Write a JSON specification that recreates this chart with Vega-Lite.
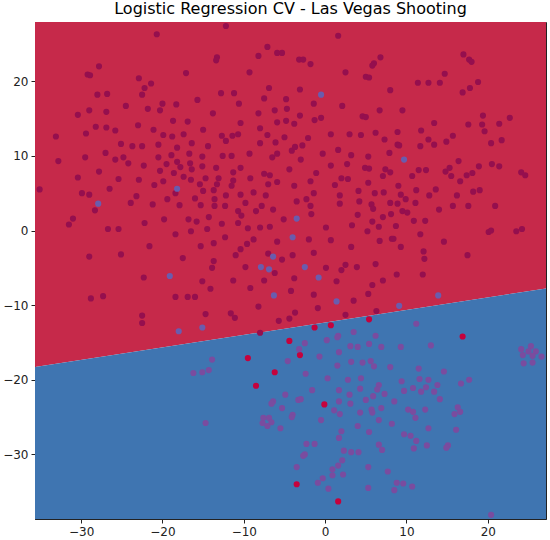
{
  "$schema": "https://vega.github.io/schema/vega-lite/v6.json",
  "width": 511,
  "height": 497,
  "autosize": "none",
  "padding": {"left": 35, "top": 22, "right": 4, "bottom": 21},
  "background": "white",
  "title": {"text": "Logistic Regression CV - Las Vegas Shooting", "font": "DejaVu Sans", "fontSize": 16, "fontWeight": "normal", "color": "black", "offset": 5, "anchor": "middle"},
  "datasets": {
    "region": [{"x": -35.67, "y": -18.3}, {"x": 27.15, "y": -7.77}],
    "pts": [
      {"x":-12.2,"y":27.4,"k":"rr"},{"x":-20.7,"y":26.3,"k":"rr"},{"x":-7.1,"y":24.6,"k":"rr"},{"x":-8.2,"y":23.4,"k":"rr"},{"x":-5.9,"y":23.8,"k":"rr"},
      {"x":-13.3,"y":23.2,"k":"rr"},{"x":-13.4,"y":22.8,"k":"rr"},{"x":-27.8,"y":22.0,"k":"rr"},{"x":-29.2,"y":20.9,"k":"rr"},{"x":-28.9,"y":20.8,"k":"rr"},
      {"x":-17.1,"y":21.1,"k":"rr"},{"x":-9.3,"y":21.2,"k":"rr"},{"x":-22.9,"y":20.4,"k":"rr"},{"x":-21.4,"y":19.7,"k":"rr"},{"x":-22.2,"y":19.1,"k":"rr"},
      {"x":-6.9,"y":19.1,"k":"rr"},{"x":-28.0,"y":18.2,"k":"rr"},{"x":-26.8,"y":18.3,"k":"rr"},{"x":-22.5,"y":18.2,"k":"rr"},{"x":-12.8,"y":18.4,"k":"rr"},
      {"x":-11.2,"y":18.4,"k":"rr"},{"x":-7.5,"y":17.7,"k":"rr"},{"x":-15.7,"y":17.5,"k":"rr"},{"x":-20.0,"y":17.0,"k":"rr"},{"x":-18.3,"y":16.9,"k":"rr"},
      {"x":-10.6,"y":17.0,"k":"rr"},{"x":-24.5,"y":16.7,"k":"rr"},{"x":-29.0,"y":16.1,"k":"rr"},{"x":-21.8,"y":16.3,"k":"rr"},{"x":-20.3,"y":16.1,"k":"rr"},
      {"x":-26.9,"y":15.9,"k":"rr"},{"x":-13.8,"y":15.7,"k":"rr"},{"x":-8.2,"y":15.7,"k":"rr"},{"x":-6.2,"y":16.1,"k":"rr"},{"x":-30.4,"y":15.5,"k":"rr"},
      {"x":-18.7,"y":14.7,"k":"rr"},{"x":-16.9,"y":14.6,"k":"rr"},{"x":-10.4,"y":14.4,"k":"rr"},{"x":-28.2,"y":13.9,"k":"rr"},{"x":-26.9,"y":13.8,"k":"rr"},
      {"x":-25.8,"y":13.4,"k":"rr"},{"x":-23.0,"y":14.1,"k":"rr"},{"x":-21.1,"y":13.5,"k":"rr"},{"x":-15.0,"y":13.5,"k":"rr"},{"x":-8.0,"y":13.7,"k":"rr"},
      {"x":-5.9,"y":14.5,"k":"rr"},{"x":-29.4,"y":13.0,"k":"rr"},{"x":-19.9,"y":12.8,"k":"rr"},{"x":-18.8,"y":12.6,"k":"rr"},{"x":-17.4,"y":12.9,"k":"rr"},
      {"x":-12.7,"y":12.7,"k":"rr"},{"x":-11.4,"y":12.7,"k":"rr"},{"x":-10.7,"y":12.9,"k":"rr"},{"x":-7.1,"y":12.8,"k":"rr"},{"x":-6.1,"y":11.8,"k":"rr"},
      {"x":-33.1,"y":12.6,"k":"rr"},{"x":-25.1,"y":11.6,"k":"rr"},{"x":-23.7,"y":11.3,"k":"rr"},{"x":-22.5,"y":11.3,"k":"rr"},{"x":-20.5,"y":11.5,"k":"rr"},
      {"x":-18.2,"y":11.1,"k":"rr"},{"x":-16.4,"y":11.7,"k":"rr"},{"x":-14.4,"y":11.3,"k":"rr"},{"x":-12.2,"y":12.0,"k":"rr"},{"x":-8.0,"y":11.7,"k":"rr"},
      {"x":-27.0,"y":10.4,"k":"rr"},{"x":-29.5,"y":9.8,"k":"rr"},{"x":-32.8,"y":9.3,"k":"rr"},{"x":-25.8,"y":9.5,"k":"rr"},{"x":-24.8,"y":9.8,"k":"rr"},
      {"x":-24.2,"y":9.0,"k":"rr"},{"x":-20.5,"y":9.8,"k":"rr"},{"x":-18.9,"y":10.1,"k":"rr"},{"x":-18.2,"y":9.2,"k":"rr"},{"x":-19.5,"y":8.9,"k":"rr"},
      {"x":-16.7,"y":10.3,"k":"rr"},{"x":-16.6,"y":9.0,"k":"rr"},{"x":-15.1,"y":9.9,"k":"rr"},{"x":-15.1,"y":8.6,"k":"rr"},{"x":-12.6,"y":10.0,"k":"rr"},
      {"x":-11.5,"y":10.0,"k":"rr"},{"x":-9.3,"y":10.3,"k":"rr"},{"x":-6.5,"y":9.8,"k":"rr"},{"x":-5.9,"y":10.3,"k":"rr"},{"x":-22.3,"y":8.7,"k":"rr"},
      {"x":-17.8,"y":8.5,"k":"rr"},{"x":-16.4,"y":8.2,"k":"rr"},{"x":-13.4,"y":8.4,"k":"rr"},{"x":-10.4,"y":8.4,"k":"rr"},{"x":-27.8,"y":7.9,"k":"rr"},
      {"x":-20.3,"y":8.0,"k":"rr"},{"x":-18.6,"y":7.7,"k":"rr"},{"x":-11.3,"y":7.8,"k":"rr"},{"x":-7.5,"y":7.6,"k":"rr"},{"x":-6.8,"y":7.4,"k":"rr"},
      {"x":-30.4,"y":7.1,"k":"rr"},{"x":-25.4,"y":6.9,"k":"rr"},{"x":-22.9,"y":6.8,"k":"rr"},{"x":-19.9,"y":6.6,"k":"rr"},{"x":-17.4,"y":7.2,"k":"rr"},
      {"x":-16.5,"y":6.8,"k":"rr"},{"x":-14.7,"y":7.0,"k":"rr"},{"x":-13.1,"y":7.0,"k":"rr"},{"x":-11.3,"y":6.7,"k":"rr"},{"x":-9.2,"y":7.0,"k":"rr"},
      {"x":-7.0,"y":6.2,"k":"rr"},{"x":-5.9,"y":6.5,"k":"rr"},{"x":-35.1,"y":5.5,"k":"rr"},{"x":-21.0,"y":6.1,"k":"rr"},{"x":-15.4,"y":6.2,"k":"rr"},
      {"x":-13.3,"y":6.2,"k":"rr"},{"x":-13.7,"y":5.4,"k":"rr"},{"x":-11.5,"y":6.0,"k":"rr"},{"x":-26.5,"y":5.6,"k":"rr"},{"x":-29.9,"y":5.0,"k":"rr"},
      {"x":-29.0,"y":4.8,"k":"rr"},{"x":-18.4,"y":5.0,"k":"rr"},{"x":-15.0,"y":5.3,"k":"rr"},{"x":-12.2,"y":4.7,"k":"rr"},{"x":-10.4,"y":4.8,"k":"rr"},
      {"x":-8.8,"y":5.1,"k":"rr"},{"x":-7.3,"y":4.7,"k":"rr"},{"x":-23.2,"y":4.6,"k":"rr"},{"x":-23.9,"y":3.7,"k":"rr"},{"x":-19.4,"y":4.2,"k":"rr"},
      {"x":-17.9,"y":3.4,"k":"rr"},{"x":-16.0,"y":4.3,"k":"rr"},{"x":-15.3,"y":3.4,"k":"rr"},{"x":-13.6,"y":4.2,"k":"rr"},{"x":-13.6,"y":3.3,"k":"rr"},
      {"x":-12.3,"y":3.3,"k":"rr"},{"x":-9.8,"y":3.7,"k":"rr"},{"x":-7.8,"y":3.3,"k":"rr"},{"x":-6.4,"y":2.8,"k":"rr"},{"x":-28.3,"y":2.7,"k":"rr"},
      {"x":-21.2,"y":3.5,"k":"rr"},{"x":-10.7,"y":2.6,"k":"rr"},{"x":-10.3,"y":2.0,"k":"rr"},{"x":-8.5,"y":2.6,"k":"rr"},{"x":-31.0,"y":1.6,"k":"rr"},
      {"x":-31.5,"y":0.8,"k":"rr"},{"x":-19.8,"y":1.5,"k":"rr"},{"x":-14.3,"y":1.8,"k":"rr"},{"x":-16.8,"y":1.5,"k":"rr"},{"x":-15.8,"y":1.2,"k":"rr"},
      {"x":-22.2,"y":1.0,"k":"rr"},{"x":-12.7,"y":0.9,"k":"rr"},{"x":-10.7,"y":1.0,"k":"rr"},{"x":-26.7,"y":0.2,"k":"rr"},{"x":-25.4,"y":0.2,"k":"rr"},
      {"x":-18.4,"y":-0.5,"k":"rr"},{"x":-16.5,"y":-0.1,"k":"rr"},{"x":-14.5,"y":0.2,"k":"rr"},{"x":-12.3,"y":-0.9,"k":"rr"},{"x":-9.5,"y":0.3,"k":"rr"},
      {"x":-8.0,"y":0.4,"k":"rr"},{"x":-6.8,"y":0.5,"k":"rr"},{"x":-5.9,"y":-1.5,"k":"rr"},{"x":-8.8,"y":-1.2,"k":"rr"},{"x":-9.6,"y":-1.8,"k":"rr"},
      {"x":-10.4,"y":-2.5,"k":"rr"},{"x":-11.0,"y":-3.3,"k":"rr"},{"x":-13.7,"y":-1.7,"k":"rr"},{"x":-15.3,"y":-2.1,"k":"rr"},{"x":-21.6,"y":-2.1,"k":"rr"},
      {"x":-29.0,"y":-3.5,"k":"rr"},{"x":-25.1,"y":-3.2,"k":"rr"},{"x":-17.5,"y":-3.7,"k":"rr"},{"x":-13.7,"y":-4.1,"k":"rr"},{"x":-13.9,"y":-5.0,"k":"rr"},
      {"x":-7.0,"y":-3.1,"k":"rr"},{"x":-9.8,"y":-4.9,"k":"rr"},{"x":-6.2,"y":-5.7,"k":"rr"},{"x":-7.5,"y":-6.7,"k":"rr"},{"x":-22.3,"y":-6.3,"k":"rr"},
      {"x":-15.1,"y":-6.8,"k":"rr"},{"x":-11.3,"y":-6.7,"k":"rr"},{"x":-14.1,"y":-7.8,"k":"rr"},{"x":-9.2,"y":-7.7,"k":"rr"},{"x":-28.8,"y":-9.1,"k":"rr"},
      {"x":-27.3,"y":-8.8,"k":"rr"},{"x":-18.4,"y":-8.9,"k":"rr"},{"x":-16.9,"y":-8.9,"k":"rr"},{"x":-16.0,"y":-8.9,"k":"rr"},{"x":-8.2,"y":-10.2,"k":"rr"},
      {"x":-22.5,"y":-11.4,"k":"rr"},{"x":-14.7,"y":-11.2,"k":"rr"},{"x":-11.6,"y":-11.1,"k":"rr"},{"x":-11.1,"y":-11.7,"k":"rr"},{"x":-22.5,"y":-12.4,"k":"rr"},
      {"x":-5.7,"y":-12.1,"k":"rr"},{"x":-8.0,"y":-13.7,"k":"rr"},
      {"x":1.6,"y":26.1,"k":"rr"},{"x":-5.3,"y":23.8,"k":"rr"},{"x":-3.2,"y":22.9,"k":"rr"},{"x":-2.7,"y":22.9,"k":"rr"},{"x":-1.8,"y":22.3,"k":"rr"},
      {"x":6.8,"y":23.2,"k":"rr"},{"x":6.0,"y":22.4,"k":"rr"},{"x":5.8,"y":22.1,"k":"rr"},{"x":2.5,"y":21.2,"k":"rr"},{"x":5.0,"y":20.6,"k":"rr"},
      {"x":5.4,"y":20.5,"k":"rr"},{"x":17.0,"y":23.6,"k":"rr"},{"x":17.7,"y":22.9,"k":"rr"},{"x":18.0,"y":22.6,"k":"rr"},{"x":14.7,"y":21.0,"k":"rr"},
      {"x":11.4,"y":19.8,"k":"rr"},{"x":12.7,"y":19.8,"k":"rr"},{"x":14.1,"y":19.8,"k":"rr"},{"x":18.8,"y":19.9,"k":"rr"},{"x":17.8,"y":19.1,"k":"rr"},
      {"x":16.9,"y":18.5,"k":"rr"},{"x":-3.1,"y":18.9,"k":"rr"},{"x":8.0,"y":18.8,"k":"rr"},{"x":-4.8,"y":17.6,"k":"rr"},{"x":-4.7,"y":16.3,"k":"rr"},
      {"x":-1.4,"y":17.0,"k":"rr"},{"x":2.1,"y":16.7,"k":"rr"},{"x":6.7,"y":16.1,"k":"rr"},{"x":9.5,"y":16.1,"k":"rr"},{"x":-3.1,"y":15.4,"k":"rr"},
      {"x":-1.3,"y":14.8,"k":"rr"},{"x":-0.5,"y":15.1,"k":"rr"},{"x":-4.8,"y":14.7,"k":"rr"},{"x":-3.8,"y":14.3,"k":"rr"},{"x":4.6,"y":15.3,"k":"rr"},
      {"x":5.0,"y":15.2,"k":"rr"},{"x":19.4,"y":15.4,"k":"rr"},{"x":22.7,"y":15.1,"k":"rr"},{"x":13.4,"y":14.4,"k":"rr"},{"x":17.6,"y":14.2,"k":"rr"},
      {"x":19.3,"y":14.2,"k":"rr"},{"x":21.4,"y":14.3,"k":"rr"},{"x":19.6,"y":13.3,"k":"rr"},{"x":11.8,"y":13.4,"k":"rr"},{"x":8.9,"y":13.2,"k":"rr"},
      {"x":6.2,"y":13.1,"k":"rr"},{"x":3.0,"y":12.9,"k":"rr"},{"x":4.4,"y":12.8,"k":"rr"},{"x":0.7,"y":12.9,"k":"rr"},{"x":-5.0,"y":12.5,"k":"rr"},
      {"x":-2.1,"y":12.4,"k":"rr"},{"x":7.3,"y":12.2,"k":"rr"},{"x":15.7,"y":12.7,"k":"rr"},{"x":14.9,"y":11.9,"k":"rr"},{"x":12.7,"y":12.2,"k":"rr"},
      {"x":13.4,"y":11.5,"k":"rr"},{"x":21.7,"y":12.1,"k":"rr"},{"x":20.4,"y":11.7,"k":"rr"},{"x":8.9,"y":11.5,"k":"rr"},{"x":9.1,"y":11.4,"k":"rr"},
      {"x":11.7,"y":11.3,"k":"rr"},{"x":-4.1,"y":10.7,"k":"rr"},{"x":-3.7,"y":11.2,"k":"rr"},{"x":-2.8,"y":11.4,"k":"rr"},{"x":1.6,"y":10.8,"k":"rr"},
      {"x":7.9,"y":10.4,"k":"rr"},{"x":-0.3,"y":10.3,"k":"rr"},{"x":3.2,"y":10.1,"k":"rr"},{"x":5.3,"y":9.9,"k":"rr"},{"x":-3.0,"y":9.5,"k":"rr"},
      {"x":16.4,"y":9.3,"k":"rr"},{"x":20.5,"y":8.9,"k":"rr"},{"x":21.4,"y":8.6,"k":"rr"},{"x":18.9,"y":8.6,"k":"rr"},{"x":0.7,"y":8.7,"k":"rr"},
      {"x":2.7,"y":8.9,"k":"rr"},{"x":4.9,"y":8.4,"k":"rr"},{"x":5.4,"y":8.3,"k":"rr"},{"x":7.4,"y":8.2,"k":"rr"},{"x":8.0,"y":7.8,"k":"rr"},
      {"x":-4.4,"y":8.2,"k":"rr"},{"x":11.5,"y":8.1,"k":"rr"},{"x":12.4,"y":8.1,"k":"rr"},{"x":14.8,"y":7.9,"k":"rr"},{"x":15.3,"y":8.4,"k":"rr"},
      {"x":15.5,"y":7.3,"k":"rr"},{"x":17.4,"y":7.4,"k":"rr"},{"x":18.1,"y":7.7,"k":"rr"},{"x":24.1,"y":7.8,"k":"rr"},{"x":24.6,"y":7.4,"k":"rr"},
      {"x":-1.1,"y":7.7,"k":"rr"},{"x":2.0,"y":7.0,"k":"rr"},{"x":2.8,"y":6.9,"k":"rr"},{"x":7.1,"y":7.3,"k":"rr"},{"x":10.7,"y":7.3,"k":"rr"},
      {"x":16.6,"y":6.6,"k":"rr"},{"x":5.3,"y":6.4,"k":"rr"},{"x":-1.8,"y":6.6,"k":"rr"},{"x":-3.8,"y":6.0,"k":"rr"},{"x":1.2,"y":6.1,"k":"rr"},
      {"x":9.0,"y":6.0,"k":"rr"},{"x":19.0,"y":5.4,"k":"rr"},{"x":18.2,"y":5.2,"k":"rr"},{"x":13.6,"y":5.5,"k":"rr"},{"x":12.8,"y":4.7,"k":"rr"},
      {"x":11.2,"y":5.4,"k":"rr"},{"x":4.1,"y":5.3,"k":"rr"},{"x":6.1,"y":5.0,"k":"rr"},{"x":7.2,"y":5.1,"k":"rr"},{"x":9.3,"y":4.8,"k":"rr"},
      {"x":9.9,"y":4.2,"k":"rr"},{"x":16.2,"y":4.7,"k":"rr"},{"x":-1.4,"y":5.0,"k":"rr"},{"x":1.8,"y":4.7,"k":"rr"},{"x":-2.3,"y":4.2,"k":"rr"},
      {"x":-1.8,"y":3.3,"k":"rr"},{"x":-3.5,"y":3.9,"k":"rr"},{"x":1.8,"y":3.6,"k":"rr"},{"x":4.2,"y":3.9,"k":"rr"},{"x":5.7,"y":3.5,"k":"rr"},
      {"x":5.9,"y":2.9,"k":"rr"},{"x":8.0,"y":3.7,"k":"rr"},{"x":8.9,"y":3.6,"k":"rr"},{"x":11.1,"y":3.7,"k":"rr"},{"x":14.0,"y":2.8,"k":"rr"},
      {"x":15.7,"y":3.3,"k":"rr"},{"x":17.6,"y":3.3,"k":"rr"},{"x":20.9,"y":3.3,"k":"rr"},{"x":9.5,"y":2.6,"k":"rr"},{"x":10.1,"y":2.4,"k":"rr"},
      {"x":4.0,"y":2.1,"k":"rr"},{"x":8.1,"y":2.2,"k":"rr"},{"x":7.1,"y":1.8,"k":"rr"},{"x":-1.7,"y":2.2,"k":"rr"},{"x":-5.1,"y":1.5,"k":"rr"},
      {"x":5.8,"y":1.2,"k":"rr"},{"x":6.6,"y":0.5,"k":"rr"},{"x":10.9,"y":1.3,"k":"rr"},{"x":12.3,"y":1.3,"k":"rr"},{"x":3.3,"y":0.7,"k":"rr"},
      {"x":5.2,"y":-0.1,"k":"rr"},{"x":0.1,"y":0.4,"k":"rr"},{"x":8.7,"y":0.6,"k":"rr"},{"x":11.7,"y":-0.5,"k":"rr"},{"x":20.1,"y":-0.2,"k":"rr"},
      {"x":20.4,"y":0.0,"k":"rr"},{"x":23.5,"y":-0.1,"k":"rr"},{"x":24.2,"y":0.2,"k":"rr"},{"x":-2.0,"y":-1.2,"k":"rr"},{"x":0.7,"y":-1.3,"k":"rr"},
      {"x":6.7,"y":-1.4,"k":"rr"},{"x":8.2,"y":-1.1,"k":"rr"},{"x":8.4,"y":-1.1,"k":"rr"},{"x":14.6,"y":-1.5,"k":"rr"},{"x":9.3,"y":-2.2,"k":"rr"},
      {"x":3.2,"y":-2.2,"k":"rr"},{"x":-1.4,"y":-3.0,"k":"rr"},{"x":12.1,"y":-2.8,"k":"rr"},{"x":12.2,"y":-3.8,"k":"rr"},{"x":17.5,"y":-3.3,"k":"rr"},
      {"x":-5.3,"y":-3.9,"k":"rr"},{"x":-4.0,"y":-3.3,"k":"rr"},{"x":2.5,"y":-4.6,"k":"rr"},{"x":2.0,"y":-5.3,"k":"rr"},{"x":3.9,"y":-4.9,"k":"rr"},
      {"x":0.1,"y":-5.0,"k":"rr"},{"x":6.2,"y":-4.5,"k":"rr"},{"x":-3.8,"y":-6.4,"k":"rr"},{"x":1.4,"y":-6.8,"k":"rr"},{"x":7.1,"y":-6.7,"k":"rr"},
      {"x":5.8,"y":-7.3,"k":"rr"},{"x":8.8,"y":-5.9,"k":"rr"},{"x":12.0,"y":-5.9,"k":"rr"},{"x":5.3,"y":-8.5,"k":"rr"},{"x":-1.4,"y":-8.6,"k":"rr"},
      {"x":-4.2,"y":-8.1,"k":"rr"},{"x":3.5,"y":-9.4,"k":"rr"},{"x":-0.9,"y":-10.4,"k":"rr"},{"x":6.3,"y":-10.8,"k":"rr"},{"x":2.5,"y":-11.3,"k":"rr"},
      {"x":-3.7,"y":-11.0,"k":"rr"},{"x":-4.4,"y":-11.8,"k":"rr"},
      {"x":-18.2,"y":5.6,"k":"br"},{"x":-27.9,"y":3.6,"k":"br"},{"x":-6.4,"y":-3.5,"k":"br"},{"x":-7.9,"y":-4.9,"k":"br"},{"x":-6.9,"y":-5.2,"k":"br"},
      {"x":-19.1,"y":-6.1,"k":"br"},{"x":-6.3,"y":-8.7,"k":"br"},{"x":-18.0,"y":-13.5,"k":"br"},{"x":-15.1,"y":-13.0,"k":"br"},{"x":-0.5,"y":18.2,"k":"br"},
      {"x":9.7,"y":9.5,"k":"br"},{"x":-3.5,"y":1.6,"k":"br"},{"x":-4.0,"y":-0.9,"k":"br"},{"x":-2.5,"y":-4.9,"k":"br"},{"x":-0.8,"y":-6.3,"k":"br"},
      {"x":13.9,"y":-8.7,"k":"br"},{"x":1.4,"y":-9.5,"k":"br"},{"x":9.1,"y":-10.1,"k":"br"},
      {"x":-9.5,"y":-17.1,"k":"rb"},{"x":-6.2,"y":-19.0,"k":"rb"},{"x":-8.5,"y":-20.8,"k":"rb"},{"x":5.4,"y":-11.9,"k":"rb"},{"x":-1.3,"y":-13.0,"k":"rb"},
      {"x":0.7,"y":-12.7,"k":"rb"},{"x":-4.4,"y":-14.8,"k":"rb"},{"x":-3.1,"y":-16.7,"k":"rb"},{"x":16.9,"y":-14.2,"k":"rb"},{"x":-0.1,"y":-23.3,"k":"rb"},
      {"x":-3.5,"y":-34.0,"k":"rb"},{"x":1.6,"y":-36.3,"k":"rb"},
      {"x":-13.9,"y":-17.3,"k":"bb"},{"x":-16.2,"y":-19.1,"k":"bb"},{"x":-15.1,"y":-19.0,"k":"bb"},{"x":-14.3,"y":-18.7,"k":"bb"},{"x":-6.4,"y":-22.9,"k":"bb"},
      {"x":-6.6,"y":-23.2,"k":"bb"},{"x":-7.6,"y":-25.1,"k":"bb"},{"x":-6.9,"y":-25.1,"k":"bb"},{"x":-7.7,"y":-25.8,"k":"bb"},{"x":-6.6,"y":-25.7,"k":"bb"},
      {"x":-7.1,"y":-26.2,"k":"bb"},{"x":-14.7,"y":-25.8,"k":"bb"},{"x":-5.5,"y":-26.5,"k":"bb"},{"x":11.2,"y":-12.5,"k":"bb"},{"x":3.5,"y":-13.6,"k":"bb"},
      {"x":6.2,"y":-14.1,"k":"bb"},{"x":1.6,"y":-14.1,"k":"bb"},{"x":1.5,"y":-14.3,"k":"bb"},{"x":0.2,"y":-14.7,"k":"bb"},{"x":-2.5,"y":-15.1,"k":"bb"},
      {"x":-3.2,"y":-15.9,"k":"bb"},{"x":3.1,"y":-15.5,"k":"bb"},{"x":4.0,"y":-15.6,"k":"bb"},{"x":5.4,"y":-15.2,"k":"bb"},{"x":6.9,"y":-15.6,"k":"bb"},
      {"x":9.3,"y":-15.6,"k":"bb"},{"x":13.0,"y":-15.4,"k":"bb"},{"x":-0.7,"y":-16.9,"k":"bb"},{"x":1.7,"y":-16.3,"k":"bb"},{"x":-4.6,"y":-17.5,"k":"bb"},
      {"x":3.2,"y":-17.6,"k":"bb"},{"x":4.6,"y":-17.7,"k":"bb"},{"x":5.6,"y":-17.5,"k":"bb"},{"x":6.0,"y":-18.2,"k":"bb"},{"x":8.0,"y":-18.3,"k":"bb"},
      {"x":11.5,"y":-18.5,"k":"bb"},{"x":1.5,"y":-18.1,"k":"bb"},{"x":14.6,"y":-18.9,"k":"bb"},{"x":-2.4,"y":-19.2,"k":"bb"},{"x":0.3,"y":-19.8,"k":"bb"},
      {"x":2.8,"y":-20.0,"k":"bb"},{"x":4.4,"y":-19.8,"k":"bb"},{"x":9.4,"y":-20.2,"k":"bb"},{"x":11.6,"y":-19.9,"k":"bb"},{"x":12.7,"y":-20.0,"k":"bb"},
      {"x":16.7,"y":-20.5,"k":"bb"},{"x":17.7,"y":-20.0,"k":"bb"},{"x":6.6,"y":-20.7,"k":"bb"},{"x":6.4,"y":-21.3,"k":"bb"},{"x":4.3,"y":-21.2,"k":"bb"},
      {"x":1.7,"y":-21.4,"k":"bb"},{"x":-1.6,"y":-21.4,"k":"bb"},{"x":10.8,"y":-21.1,"k":"bb"},{"x":9.7,"y":-21.5,"k":"bb"},{"x":11.8,"y":-21.6,"k":"bb"},
      {"x":12.4,"y":-21.0,"k":"bb"},{"x":13.8,"y":-20.7,"k":"bb"},{"x":13.4,"y":-21.6,"k":"bb"},{"x":-4.9,"y":-22.0,"k":"bb"},{"x":3.0,"y":-22.0,"k":"bb"},
      {"x":5.9,"y":-22.2,"k":"bb"},{"x":7.3,"y":-21.9,"k":"bb"},{"x":14.1,"y":-22.6,"k":"bb"},{"x":-3.3,"y":-22.7,"k":"bb"},{"x":-3.0,"y":-22.6,"k":"bb"},
      {"x":5.0,"y":-22.7,"k":"bb"},{"x":1.7,"y":-22.9,"k":"bb"},{"x":8.5,"y":-22.9,"k":"bb"},{"x":3.1,"y":-23.2,"k":"bb"},{"x":6.9,"y":-23.8,"k":"bb"},
      {"x":5.7,"y":-24.0,"k":"bb"},{"x":5.8,"y":-24.4,"k":"bb"},{"x":10.2,"y":-24.0,"k":"bb"},{"x":10.8,"y":-24.3,"k":"bb"},{"x":12.3,"y":-24.0,"k":"bb"},
      {"x":16.3,"y":-23.7,"k":"bb"},{"x":16.6,"y":-24.3,"k":"bb"},{"x":15.9,"y":-24.6,"k":"bb"},{"x":1.1,"y":-24.1,"k":"bb"},{"x":1.8,"y":-24.6,"k":"bb"},
      {"x":4.3,"y":-24.4,"k":"bb"},{"x":-5.3,"y":-23.8,"k":"bb"},{"x":-4.0,"y":-24.7,"k":"bb"},{"x":-4.1,"y":-25.0,"k":"bb"},{"x":-0.5,"y":-25.4,"k":"bb"},
      {"x":6.6,"y":-25.4,"k":"bb"},{"x":11.1,"y":-25.1,"k":"bb"},{"x":4.0,"y":-26.2,"k":"bb"},{"x":8.2,"y":-25.9,"k":"bb"},{"x":2.0,"y":-26.9,"k":"bb"},
      {"x":5.4,"y":-27.0,"k":"bb"},{"x":12.7,"y":-26.5,"k":"bb"},{"x":16.1,"y":-26.7,"k":"bb"},{"x":1.7,"y":-27.8,"k":"bb"},{"x":9.7,"y":-27.3,"k":"bb"},
      {"x":10.5,"y":-27.5,"k":"bb"},{"x":11.2,"y":-28.2,"k":"bb"},{"x":-2.3,"y":-28.6,"k":"bb"},{"x":-1.3,"y":-28.6,"k":"bb"},{"x":6.6,"y":-28.7,"k":"bb"},
      {"x":7.0,"y":-29.4,"k":"bb"},{"x":10.9,"y":-29.2,"k":"bb"},{"x":12.5,"y":-28.8,"k":"bb"},{"x":15.1,"y":-28.8,"k":"bb"},{"x":14.9,"y":-29.1,"k":"bb"},
      {"x":2.3,"y":-29.5,"k":"bb"},{"x":3.2,"y":-29.7,"k":"bb"},{"x":4.1,"y":-29.7,"k":"bb"},{"x":-2.5,"y":-30.0,"k":"bb"},{"x":-2.7,"y":-30.2,"k":"bb"},
      {"x":2.1,"y":-30.8,"k":"bb"},{"x":1.6,"y":-31.5,"k":"bb"},{"x":-3.5,"y":-31.7,"k":"bb"},{"x":5.3,"y":-31.7,"k":"bb"},{"x":0.9,"y":-32.0,"k":"bb"},
      {"x":7.7,"y":-32.3,"k":"bb"},{"x":0.9,"y":-32.8,"k":"bb"},{"x":2.2,"y":-32.7,"k":"bb"},{"x":-0.3,"y":-33.2,"k":"bb"},{"x":-0.9,"y":-33.8,"k":"bb"},
      {"x":8.8,"y":-33.8,"k":"bb"},{"x":9.6,"y":-33.9,"k":"bb"},{"x":10.7,"y":-34.3,"k":"bb"},{"x":0.4,"y":-34.6,"k":"bb"},{"x":5.3,"y":-34.5,"k":"bb"},
      {"x":8.5,"y":-34.8,"k":"bb"},{"x":20.4,"y":-38.1,"k":"bb"},{"x":24.1,"y":-15.9,"k":"bb"},{"x":25.3,"y":-15.5,"k":"bb"},{"x":25.9,"y":-16.2,"k":"bb"},
      {"x":25.0,"y":-16.2,"k":"bb"},{"x":24.3,"y":-16.7,"k":"bb"},{"x":25.5,"y":-16.8,"k":"bb"},{"x":26.6,"y":-16.9,"k":"bb"},{"x":24.4,"y":-17.8,"k":"bb"},
      {"x":25.5,"y":-17.7,"k":"bb"}
    ]
  },
  "layer": [
    {
      "data": {"name": "region"},
      "mark": {"type": "area", "color": "#c6294a", "clip": true},
      "encoding": {
        "x": {"field": "x", "type": "quantitative", "scale": {"domain": [-35.67, 27.15], "nice": false, "zero": false},
          "axis": {"values": [-30, -20, -10, 0, 10, 20]}},
        "y": {"field": "y", "type": "quantitative", "scale": {"domain": [-38.66, 27.94], "nice": false, "zero": false},
          "axis": {"values": [-30, -20, -10, 0, 10, 20]}},
        "y2": {"datum": 27.94}
      }
    },
    {
      "data": {"name": "region"},
      "mark": {"type": "area", "color": "#3f75b1", "clip": true},
      "encoding": {
        "x": {"field": "x", "type": "quantitative"},
        "y": {"field": "y", "type": "quantitative"},
        "y2": {"datum": -38.66}
      }
    },
    {
      "data": {"name": "pts"},
      "mark": {"type": "circle", "size": 38, "opacity": 1, "clip": true},
      "encoding": {
        "x": {"field": "x", "type": "quantitative"},
        "y": {"field": "y", "type": "quantitative"},
        "color": {"field": "k", "type": "nominal", "legend": null,
          "scale": {"domain": ["rr", "br", "rb", "bb"], "range": ["#950f4e", "#6a5cae", "#c5023d", "#7a4c9f"]}}
      }
    }
  ],
  "config": {
    "view": {"stroke": "#222222", "strokeWidth": 1},
    "axis": {"grid": false, "title": null, "domainColor": "#222222", "tickColor": "#222222", "tickSize": 4, "labelColor": "#222222", "labelFont": "DejaVu Sans", "labelFontSize": 12, "labelPadding": 3,
      "labelExpr": "replace(datum.label, '-', '\u2212')"}
  }
}
